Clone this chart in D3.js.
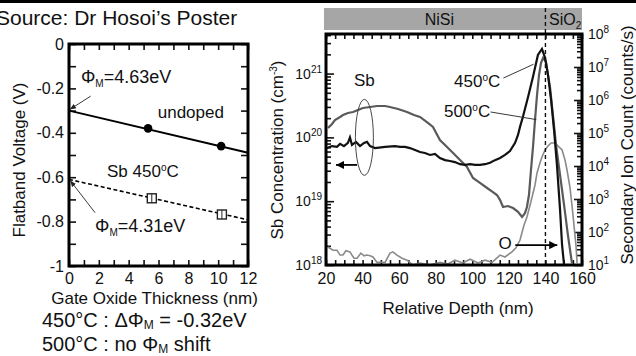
<!DOCTYPE html>
<html>
<head>
<meta charset="utf-8">
<script src="https://cdn.jsdelivr.net/npm/d3@7"></script>
<style>
  body { margin: 0; background: #fff; }
  svg { display: block; font-family: "Liberation Sans", Arial, sans-serif; }
</style>
</head>
<body>
<svg id="fig" width="636" height="356"></svg>
<script>
// ---- left panel: flatband voltage vs gate oxide thickness
const toxUndoped = [5.3, 10.2];
const vfbUndoped = [-0.38, -0.46];
const toxSb450 = [5.55, 10.25];
const vfbSb450 = [-0.695, -0.768];
const fitTox = [0, 12];
const fitUndoped = [-0.30, -0.49];
const fitSb450 = [-0.61, -0.792];
const toxTicks = d3.range(0, 13, 1);
const vfbTicks = d3.range(-1, 0.001, 0.1);
const vfbLabels = [-1, -0.8, -0.6, -0.4, -0.2, 0];

// ---- right panel: SIMS depth profiles
const depth450 = [20.5,23.3,26.0,27.7,29.8,32.0,33.1,34.2,36.4,38.6,40.8,42.4,44.1,46.8,52.3,57.7,60.5,63.2,65.9,68.7,
  71.4,74.1,76.9,79.6,82.3,85.1,87.8,90.5,93.3,96.0,98.8,101.5,104.2,107.0,109.7,112.4,115.2,117.9,120.6,123.4,
  125.0,126.1,127.7,130.5,133.2,135.9,138.1,139.8,141.4,143.1,144.7,146.3,148.0,149.1,150.2];
const sb450 = [6.8e19,7.3e19,7.1e19,7.9e19,7.3e19,8.2e19,1.0e20,7.6e19,8.5e19,7.3e19,8.2e19,8.5e19,7.3e19,6.8e19,7.1e19,7.3e19,7.1e19,7.1e19,6.8e19,6.35e19,
  5.9e19,5.7e19,5.3e19,5.5e19,4.75e19,4.4e19,4.27e19,4.1e19,3.8e19,3.7e19,3.8e19,3.7e19,3.7e19,3.8e19,4.0e19,4.4e19,4.75e19,5.3e19,6.1e19,8.2e19,
  1.09e20,1.46e20,2.1e20,4.3e20,8.9e20,1.96e21,2.43e21,1.76e21,9.5e20,3.85e20,1.31e20,3.7e19,7.3e18,2.06e18,1.0e18];

const depth500 = [21.1,23.3,24.9,27.7,29.3,32.0,34.8,37.5,40.2,44.1,47.9,52.3,55.0,59.4,64.3,68.1,71.4,75.2,78.5,82.3,
  86.2,89.5,93.3,97.1,100.4,104.2,108.1,111.3,113.5,115.2,116.8,119.5,122.3,125.0,127.2,128.8,129.9,131.0,132.1,133.2,
  134.3,135.4,136.5,137.6,138.7,140.3,141.4,142.5,144.1,145.8,148.0,150.2,152.3,154.5];
const sb500 = [1.40e20,1.62e20,1.87e20,2.09e20,2.24e20,2.41e20,2.50e20,2.69e20,2.89e20,2.99e20,3.10e20,3.10e20,2.99e20,2.79e20,2.50e20,2.24e20,2.09e20,1.74e20,1.46e20,9.1e19,
  7.07e19,5.69e19,4.42e19,3.44e19,2.31e19,1.93e19,1.61e19,1.39e19,1.25e19,1.04e19,8.1e18,8.4e18,7.8e18,6.8e18,5.65e18,6.5e18,8.1e18,1.25e19,3.08e19,7.07e19,
  1.87e20,4.6e20,9.5e20,1.47e21,1.76e21,1.52e21,9.5e20,6.2e20,2.24e20,7.6e19,2.57e19,8.7e18,2.95e18,1.07e18];

const depthO = [21.1,23.8,26.0,27.7,29.3,30.9,33.1,35.3,37.0,39.1,40.8,42.4,44.1,45.7,47.9,49.5,52.3,55.0,56.6,58.8,
  61.6,64.3,67.6,71.4,76.9,82.3,86.7,90.5,94.9,98.8,103.1,107.0,110.8,115.2,117.9,121.7,123.9,126.1,128.3,129.9,
  131.6,132.7,134.3,135.4,137.0,138.1,139.8,141.4,143.1,145.3,146.9,149.1,150.7,151.8,153.4,154.5,155.6,156.7,157.3];
const countO = [35,28,28,20,20,27,25,16,16,23,19,20,19,17.5,12,12,12,23,25,20,
  16,14,10,11.5,10,12,10.7,14,11.5,15,11.5,14,12,20,17.5,25,33,57,163,285,
  660,1150,2660,6140,12300,18700,30600,40400,49800,49800,40400,30600,15200,7570,2310,660,163,40,11.5];

const depthTicks = d3.range(20, 161, 5);
const depthLabels = d3.range(20, 161, 20);
const concDecades = [18, 19, 20, 21];
const countDecades = [1, 2, 3, 4, 5, 6, 7, 8];

const svg = d3.select('#fig');
const W = 636;

// header rule and source
svg.append('rect').attr('x', 0).attr('y', 0).attr('width', W).attr('height', 3).attr('fill', '#000');
svg.append('text').attr('x', -4).attr('y', 25).attr('font-size', '21px').attr('fill', '#111')
  .text('Source: Dr Hosoi\u2019s Poster');

function styleAxis(g, fs) {
  g.select('.domain').remove();
  g.selectAll('.tick line').attr('stroke', '#111').attr('stroke-width', 1.6);
  g.selectAll('.tick text').attr('font-size', fs).attr('fill', '#111')
    .attr('font-family', '"Liberation Sans", Arial, sans-serif');
}

// ================= left panel =================
const L = { left: 69, right: 248, top: 44, bottom: 266 };
const xL = d3.scaleLinear().domain([0, 12]).range([L.left, L.right]);
const yL = d3.scaleLinear().domain([-1, 0]).range([L.bottom, L.top]);
const gL = svg.append('g');

gL.append('g').attr('transform', `translate(0,${L.bottom})`)
  .call(d3.axisBottom(xL).tickValues(toxTicks).tickSize(-6).tickPadding(7)
    .tickFormat(d => d % 2 ? '' : d))
  .call(g => styleAxis(g, '16px'));
gL.append('g').attr('transform', `translate(0,${L.top})`)
  .call(d3.axisTop(xL).tickValues(toxTicks).tickSize(-6).tickFormat(''))
  .call(g => styleAxis(g, '16px'));

const fmtV = d => {
  const r = Math.round(d * 10) / 10;
  if (!vfbLabels.some(v => Math.abs(v - r) < 1e-6)) return '';
  return r === 0 ? '0' : r === -1 ? '-1' : r.toFixed(1);
};
gL.append('g').attr('transform', `translate(${L.left},0)`)
  .call(d3.axisLeft(yL).tickValues(vfbTicks).tickSize(-7).tickPadding(5).tickFormat(fmtV))
  .call(g => styleAxis(g, '16px'));
gL.append('g').attr('transform', `translate(${L.right},0)`)
  .call(d3.axisRight(yL).tickValues(vfbTicks).tickSize(-7).tickFormat(''))
  .call(g => styleAxis(g, '16px'));

gL.append('rect').attr('x', L.left).attr('y', L.top)
  .attr('width', L.right - L.left).attr('height', L.bottom - L.top)
  .attr('fill', 'none').attr('stroke', '#000').attr('stroke-width', 3);

const lineL = d3.line().x(d => xL(d[0])).y(d => yL(d[1]));
gL.append('path').datum(fitTox.map((t, i) => [t, fitUndoped[i]]))
  .attr('d', lineL).attr('fill', 'none').attr('stroke', '#000').attr('stroke-width', 2);
gL.append('path').datum(fitTox.map((t, i) => [t, fitSb450[i]]))
  .attr('d', lineL).attr('fill', 'none').attr('stroke', '#000').attr('stroke-width', 1.6)
  .attr('stroke-dasharray', '4,2.5');

gL.selectAll('circle.und').data(toxUndoped).enter().append('circle')
  .attr('cx', d => xL(d)).attr('cy', (d, i) => yL(vfbUndoped[i])).attr('r', 4.3).attr('fill', '#000');
const sq = gL.selectAll('g.sq').data(toxSb450).enter().append('g')
  .attr('transform', (d, i) => `translate(${xL(d)},${yL(vfbSb450[i])})`);
sq.append('rect').attr('x', -4.5).attr('y', -4.5).attr('width', 9).attr('height', 9)
  .attr('fill', '#fff').attr('stroke', '#222').attr('stroke-width', 1.4);
sq.append('line').attr('x1', 0).attr('x2', 0).attr('y1', -4.5).attr('y2', 4.5)
  .attr('stroke', '#222').attr('stroke-width', 1);

// arrow markers
const defs = svg.append('defs');
defs.append('marker').attr('id', 'ahs').attr('viewBox', '0 0 10 10').attr('refX', 10).attr('refY', 5)
  .attr('markerWidth', 7).attr('markerHeight', 7).attr('orient', 'auto-start-reverse')
  .append('path').attr('d', 'M0,1 L10,5 L0,9 Z').attr('fill', '#222');
defs.append('marker').attr('id', 'ahb').attr('viewBox', '0 0 10 10').attr('refX', 10).attr('refY', 5)
  .attr('markerWidth', 4.5).attr('markerHeight', 4.5).attr('orient', 'auto')
  .append('path').attr('d', 'M0,0 L10,5 L0,10 Z').attr('fill', '#000');

function phiLabel(g, x, y, rest) {
  const t = g.append('text').attr('x', x).attr('y', y).attr('font-size', '18px').attr('fill', '#111');
  t.append('tspan').text('\u03A6');
  t.append('tspan').attr('dy', 4).attr('font-size', '10px').text('M');
  t.append('tspan').attr('dy', -4).text(rest);
}
phiLabel(gL, xL(0.8), yL(-0.175), '=4.63eV');
gL.append('line').attr('x1', xL(1.45)).attr('y1', yL(-0.235)).attr('x2', xL(0.05)).attr('y2', yL(-0.295))
  .attr('stroke', '#222').attr('stroke-width', 0.9).attr('marker-end', 'url(#ahs)');
gL.append('text').attr('x', xL(5.95)).attr('y', yL(-0.335)).attr('font-size', '17px').attr('fill', '#111').text('undoped');

const sbt = gL.append('text').attr('x', xL(2.55)).attr('y', yL(-0.6)).attr('font-size', '17px').attr('fill', '#111');
sbt.append('tspan').text('Sb 450');
sbt.append('tspan').attr('dy', -6).attr('font-size', '10px').text('o');
sbt.append('tspan').attr('dy', 6).text('C');

phiLabel(gL, xL(1.75), yL(-0.845), '=4.31eV');
gL.append('line').attr('x1', xL(1.75)).attr('y1', yL(-0.76)).attr('x2', xL(0.08)).attr('y2', yL(-0.615))
  .attr('stroke', '#222').attr('stroke-width', 0.9).attr('marker-end', 'url(#ahs)');

svg.append('text').attr('x', (L.left + L.right) / 2 - 4).attr('y', 304).attr('text-anchor', 'middle')
  .attr('font-size', '17px').attr('fill', '#111').text('Gate Oxide Thickness (nm)');
svg.append('text').attr('transform', 'translate(25,160) rotate(-90)').attr('text-anchor', 'middle')
  .attr('font-size', '17px').attr('fill', '#111').text('Flatband Voltage (V)');

// notes under left panel
const n1 = svg.append('text').attr('x', 42).attr('y', 327).attr('font-size', '20px').attr('fill', '#111');
n1.append('tspan').text('450\u00B0C : \u0394\u03A6');
n1.append('tspan').attr('dy', 2).attr('font-size', '12px').text('M');
n1.append('tspan').attr('dy', -2).text(' = -0.32eV');
const n2 = svg.append('text').attr('x', 42).attr('y', 351).attr('font-size', '20px').attr('fill', '#111');
n2.append('tspan').text('500\u00B0C : no \u03A6');
n2.append('tspan').attr('dy', 2).attr('font-size', '12px').text('M');
n2.append('tspan').attr('dy', -2).text(' shift');

// ================= right panel =================
const R = { left: 326, right: 582, top: 34, bottom: 265 };
const xR = d3.scaleLinear().domain([20, 160]).range([R.left, R.right]);
const yC = d3.scaleLog().domain([1e18, Math.pow(10, 21.62)]).range([R.bottom, R.top]);
const yN = d3.scaleLog().domain([10, 1e8]).range([R.bottom, R.top]);
const gR = svg.append('g');

// layer bar
gR.append('rect').attr('x', R.left - 2).attr('y', 8).attr('width', R.right - R.left + 2).attr('height', 22)
  .attr('fill', '#a6a6a6');
gR.append('text').attr('x', xR(82)).attr('y', 25).attr('text-anchor', 'middle').attr('font-size', '16px')
  .attr('fill', '#111').text('NiSi');
const sio = gR.append('text').attr('x', xR(142)).attr('y', 25).attr('font-size', '16px').attr('fill', '#111');
sio.append('tspan').text('SiO');
sio.append('tspan').attr('dy', 4).attr('font-size', '10px').text('2');

function logTicks(decs, scale) {
  const out = [];
  decs.forEach(e => d3.range(1, 10).forEach(k => {
    const v = k * Math.pow(10, e);
    const [a, b] = scale.domain();
    if (v >= a * 0.999 && v <= b * 1.001) out.push(v);
  }));
  return out;
}
const isDecade = v => Math.abs(Math.log10(v) - Math.round(Math.log10(v))) < 1e-6;
function supLabels(g) {
  g.selectAll('.tick text').each(function (v) {
    const t = d3.select(this);
    t.text(null);
    if (!isDecade(v)) return;
    t.append('tspan').text('10');
    t.append('tspan').attr('dy', -6).attr('font-size', '10px').text(Math.round(Math.log10(v)));
  });
}

gR.append('g').attr('transform', `translate(0,${R.bottom})`)
  .call(d3.axisBottom(xR).tickValues(depthTicks).tickSize(-5).tickPadding(8)
    .tickFormat(d => depthLabels.includes(d) ? d : ''))
  .call(g => styleAxis(g, '16px'));
gR.append('g').attr('transform', `translate(0,${R.top})`)
  .call(d3.axisTop(xR).tickValues(depthTicks).tickSize(-5).tickFormat(''))
  .call(g => styleAxis(g, '16px'));

const cTicks = logTicks(concDecades, yC);
gR.append('g').attr('transform', `translate(${R.left},0)`)
  .call(d3.axisLeft(yC).tickValues(cTicks).tickSize(-5).tickPadding(4))
  .call(g => styleAxis(g, '14px'))
  .call(supLabels)
  .call(g => g.selectAll('.tick').filter(isDecade).select('line').attr('x2', 8));
const nTicks = logTicks(countDecades, yN);
gR.append('g').attr('transform', `translate(${R.right},0)`)
  .call(d3.axisRight(yN).tickValues(nTicks).tickSize(-5).tickPadding(6))
  .call(g => styleAxis(g, '14px'))
  .call(supLabels)
  .call(g => g.selectAll('.tick').filter(isDecade).select('line').attr('x2', -8));

defs.append('clipPath').attr('id', 'clipR').append('rect')
  .attr('x', R.left).attr('y', R.top).attr('width', R.right - R.left).attr('height', R.bottom - R.top);
const plot = gR.append('g').attr('clip-path', 'url(#clipR)');

// interface line
gR.append('line').attr('x1', xR(140)).attr('x2', xR(140)).attr('y1', 8).attr('y2', R.bottom)
  .attr('stroke', '#111').attr('stroke-width', 1.4).attr('stroke-dasharray', '4,3');

const lineC = d3.line().x(d => xR(d[0])).y(d => yC(d[1]));
const lineN = d3.line().x(d => xR(d[0])).y(d => yN(d[1]));
plot.append('path').datum(depthO.map((d, i) => [d, countO[i]]))
  .attr('d', lineN).attr('fill', 'none').attr('stroke', '#8a8a8a').attr('stroke-width', 1.6);
plot.append('path').datum(depth500.map((d, i) => [d, sb500[i]]))
  .attr('d', lineC).attr('fill', 'none').attr('stroke', '#5a5a5a').attr('stroke-width', 2.2);
plot.append('path').datum(depth450.map((d, i) => [d, sb450[i]]))
  .attr('d', lineC).attr('fill', 'none').attr('stroke', '#111').attr('stroke-width', 2.2);

gR.append('rect').attr('x', R.left).attr('y', R.top)
  .attr('width', R.right - R.left).attr('height', R.bottom - R.top)
  .attr('fill', 'none').attr('stroke', '#000').attr('stroke-width', 3);

// annotations
gR.append('text').attr('x', xR(41)).attr('y', yC(6.5e20)).attr('text-anchor', 'middle')
  .attr('font-size', '17px').attr('fill', '#111').text('Sb');
gR.append('ellipse').attr('cx', xR(41)).attr('cy', yC(1.0e20)).attr('rx', 9).attr('ry', 38)
  .attr('fill', 'none').attr('stroke', '#333').attr('stroke-width', 0.9);
gR.append('line').attr('x1', xR(37)).attr('y1', yC(3.7e19)).attr('x2', xR(25.5)).attr('y2', yC(3.7e19))
  .attr('stroke', '#000').attr('stroke-width', 1.8).attr('marker-end', 'url(#ahb)');

function degLabel(g, x, y, num) {
  const t = g.append('text').attr('x', x).attr('y', y).attr('font-size', '17px').attr('fill', '#111');
  t.append('tspan').text(num);
  t.append('tspan').attr('dy', -6).attr('font-size', '10px').text('o');
  t.append('tspan').attr('dy', 6).text('C');
}
degLabel(gR, xR(90), yC(6.2e20), '450');
gR.append('line').attr('x1', xR(117)).attr('y1', yC(8.5e20)).attr('x2', xR(133.5)).attr('y2', yC(1.4e21))
  .attr('stroke', '#222').attr('stroke-width', 0.9);
degLabel(gR, xR(84.5), yC(2.1e20), '500');
gR.append('line').attr('x1', xR(110)).attr('y1', yC(2.5e20)).attr('x2', xR(135)).attr('y2', yC(1.9e20))
  .attr('stroke', '#222').attr('stroke-width', 0.9);

gR.append('text').attr('x', xR(118)).attr('y', yN(30)).attr('text-anchor', 'middle')
  .attr('font-size', '17px').attr('fill', '#111').text('O');
gR.append('line').attr('x1', xR(123.5)).attr('y1', yN(40)).attr('x2', xR(146.5)).attr('y2', yN(40))
  .attr('stroke', '#000').attr('stroke-width', 1.8).attr('marker-end', 'url(#ahb)');

svg.append('text').attr('x', (R.left + R.right) / 2 + 4).attr('y', 314).attr('text-anchor', 'middle')
  .attr('font-size', '17px').attr('fill', '#111').text('Relative Depth (nm)');
const cy = svg.append('text').attr('transform', 'translate(283,150) rotate(-90)').attr('text-anchor', 'middle')
  .attr('font-size', '17px').attr('fill', '#111');
cy.append('tspan').text('Sb Concentration (cm');
cy.append('tspan').attr('dy', -6).attr('font-size', '10px').text('-3');
cy.append('tspan').attr('dy', 6).text(')');
svg.append('text').attr('transform', 'translate(633,145) rotate(-90)').attr('text-anchor', 'middle')
  .attr('font-size', '17px').attr('fill', '#111').text('Secondary Ion Count (counts/s)');
</script>
</body>
</html>
